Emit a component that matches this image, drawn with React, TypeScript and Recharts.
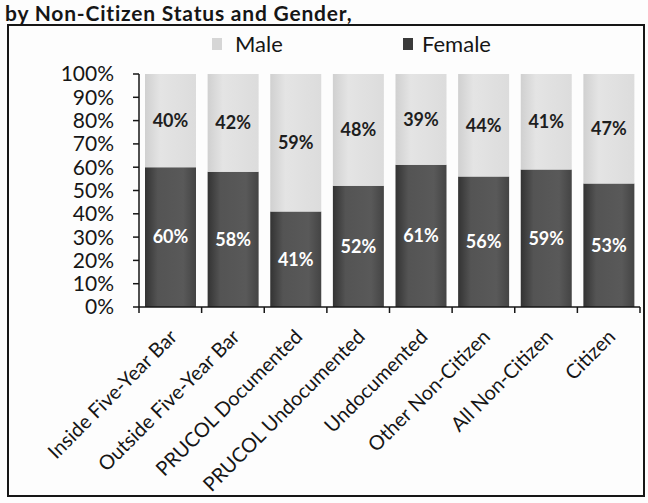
import React from "react";
import { BarChart, Bar, XAxis, YAxis, LabelList } from "recharts";

const categories = [
  "Inside Five-Year Bar",
  "Outside Five-Year Bar",
  "PRUCOL Documented",
  "PRUCOL Undocumented",
  "Undocumented",
  "Other Non-Citizen",
  "All Non-Citizen",
  "Citizen",
];
const malePct = [40, 42, 59, 48, 39, 44, 41, 47];
const femalePct = [60, 58, 41, 52, 61, 56, 59, 53];
const percentTicks = [0, 10, 20, 30, 40, 50, 60, 70, 80, 90, 100];

const data = categories.map((name, i) => ({
  name,
  male: malePct[i],
  female: femalePct[i],
}));

const W = 648;
const H = 503;
const PLOT_LEFT = 139;
const PLOT_RIGHT = 640;
const HALF_BAND = (PLOT_RIGHT - PLOT_LEFT) / categories.length / 2;
const FONT = "Lato, 'Open Sans', sans-serif";
const INK = "#161616";

// category label rotated 45deg, with tick marks on band edges
function CategoryTick(props: any) {
  const { x, y, payload, index } = props;
  const axisY = y - 8;
  const last = index === categories.length - 1;
  return (
    <g>
      <line x1={x - HALF_BAND} x2={x - HALF_BAND} y1={axisY} y2={axisY + 6} stroke={INK} strokeWidth={1.5} />
      {last && (
        <line x1={x + HALF_BAND} x2={x + HALF_BAND} y1={axisY} y2={axisY + 6} stroke={INK} strokeWidth={1.5} />
      )}
      <text
        transform={`translate(${x + 8},${axisY + 31}) rotate(-45)`}
        textAnchor="end"
        fontSize={20}
        fontFamily={FONT}
        fill={INK}
      >
        {payload.value}
      </text>
    </g>
  );
}

export default function App() {
  return (
    <div
      style={{
        position: "absolute",
        left: 0,
        top: 0,
        width: W,
        height: H,
        background: "#fdfdfd",
        overflow: "hidden",
        fontFamily: FONT,
        color: INK,
      }}
    >
      <div
        style={{
          position: "absolute",
          left: 5,
          top: 0,
          fontSize: 21,
          fontWeight: 700,
          lineHeight: "normal",
          letterSpacing: 0.8,
          whiteSpace: "nowrap",
        }}
      >
        by Non-Citizen Status and Gender,
      </div>

      <div
        style={{
          position: "absolute",
          left: 7,
          top: 24,
          width: 638,
          height: 473,
          boxSizing: "border-box",
          border: `2px solid ${INK}`,
        }}
      />

      {/* legend */}
      <div style={{ position: "absolute", left: 212, top: 30, display: "flex", alignItems: "center", fontSize: 22 }}>
        <span style={{ width: 10, height: 12, background: "#d6d6d6", display: "inline-block", marginRight: 13 }} />
        <span>Male</span>
      </div>
      <div style={{ position: "absolute", left: 403, top: 30, display: "flex", alignItems: "center", fontSize: 22 }}>
        <span style={{ width: 10, height: 12, background: "#3a3a3a", display: "inline-block", marginRight: 9 }} />
        <span>Female</span>
      </div>

      <div style={{ position: "absolute", left: 0, top: 0 }}>
        <BarChart
          width={W}
          height={H}
          data={data}
          margin={{ top: 74, right: W - PLOT_RIGHT, left: PLOT_LEFT - 80, bottom: 16 }}
        >
          <defs>
            <linearGradient id="femaleFill" x1="0" y1="0" x2="1" y2="0">
              <stop offset="0%" stopColor="#333333" />
              <stop offset="25%" stopColor="#545454" />
              <stop offset="75%" stopColor="#595959" />
              <stop offset="100%" stopColor="#444444" />
            </linearGradient>
            <linearGradient id="maleFill" x1="0" y1="0" x2="1" y2="0">
              <stop offset="0%" stopColor="#d0d0d0" />
              <stop offset="30%" stopColor="#e4e4e4" />
              <stop offset="100%" stopColor="#dcdcdc" />
            </linearGradient>
          </defs>
          <XAxis
            dataKey="name"
            interval={0}
            height={180}
            tickLine={false}
            tickSize={6}
            tickMargin={2}
            axisLine={{ stroke: INK, strokeWidth: 1.5 }}
            tick={<CategoryTick />}
          />
          <YAxis
            width={80}
            domain={[0, 100]}
            ticks={percentTicks}
            interval={0}
            tickFormatter={(v: number) => `${v}%`}
            tickSize={6}
            tickMargin={19}
            axisLine={{ stroke: INK, strokeWidth: 1.5 }}
            tickLine={{ stroke: INK, strokeWidth: 1.5 }}
            tick={{ fill: INK, fontSize: 21, fontFamily: FONT }}
          />
          <Bar dataKey="female" stackId="g" barSize={51} fill="url(#femaleFill)" isAnimationActive={false}>
            <LabelList
              dataKey="female"
              position="center"
              formatter={(v: any) => `${v}%`}
              fill="#ffffff"
              fontSize={18}
              fontWeight={700}
              fontFamily={FONT}
            />
          </Bar>
          <Bar dataKey="male" stackId="g" barSize={51} fill="url(#maleFill)" isAnimationActive={false}>
            <LabelList
              dataKey="male"
              position="center"
              formatter={(v: any) => `${v}%`}
              fill="#1e1e1e"
              fontSize={18}
              fontWeight={700}
              fontFamily={FONT}
            />
          </Bar>
        </BarChart>
      </div>
    </div>
  );
}
